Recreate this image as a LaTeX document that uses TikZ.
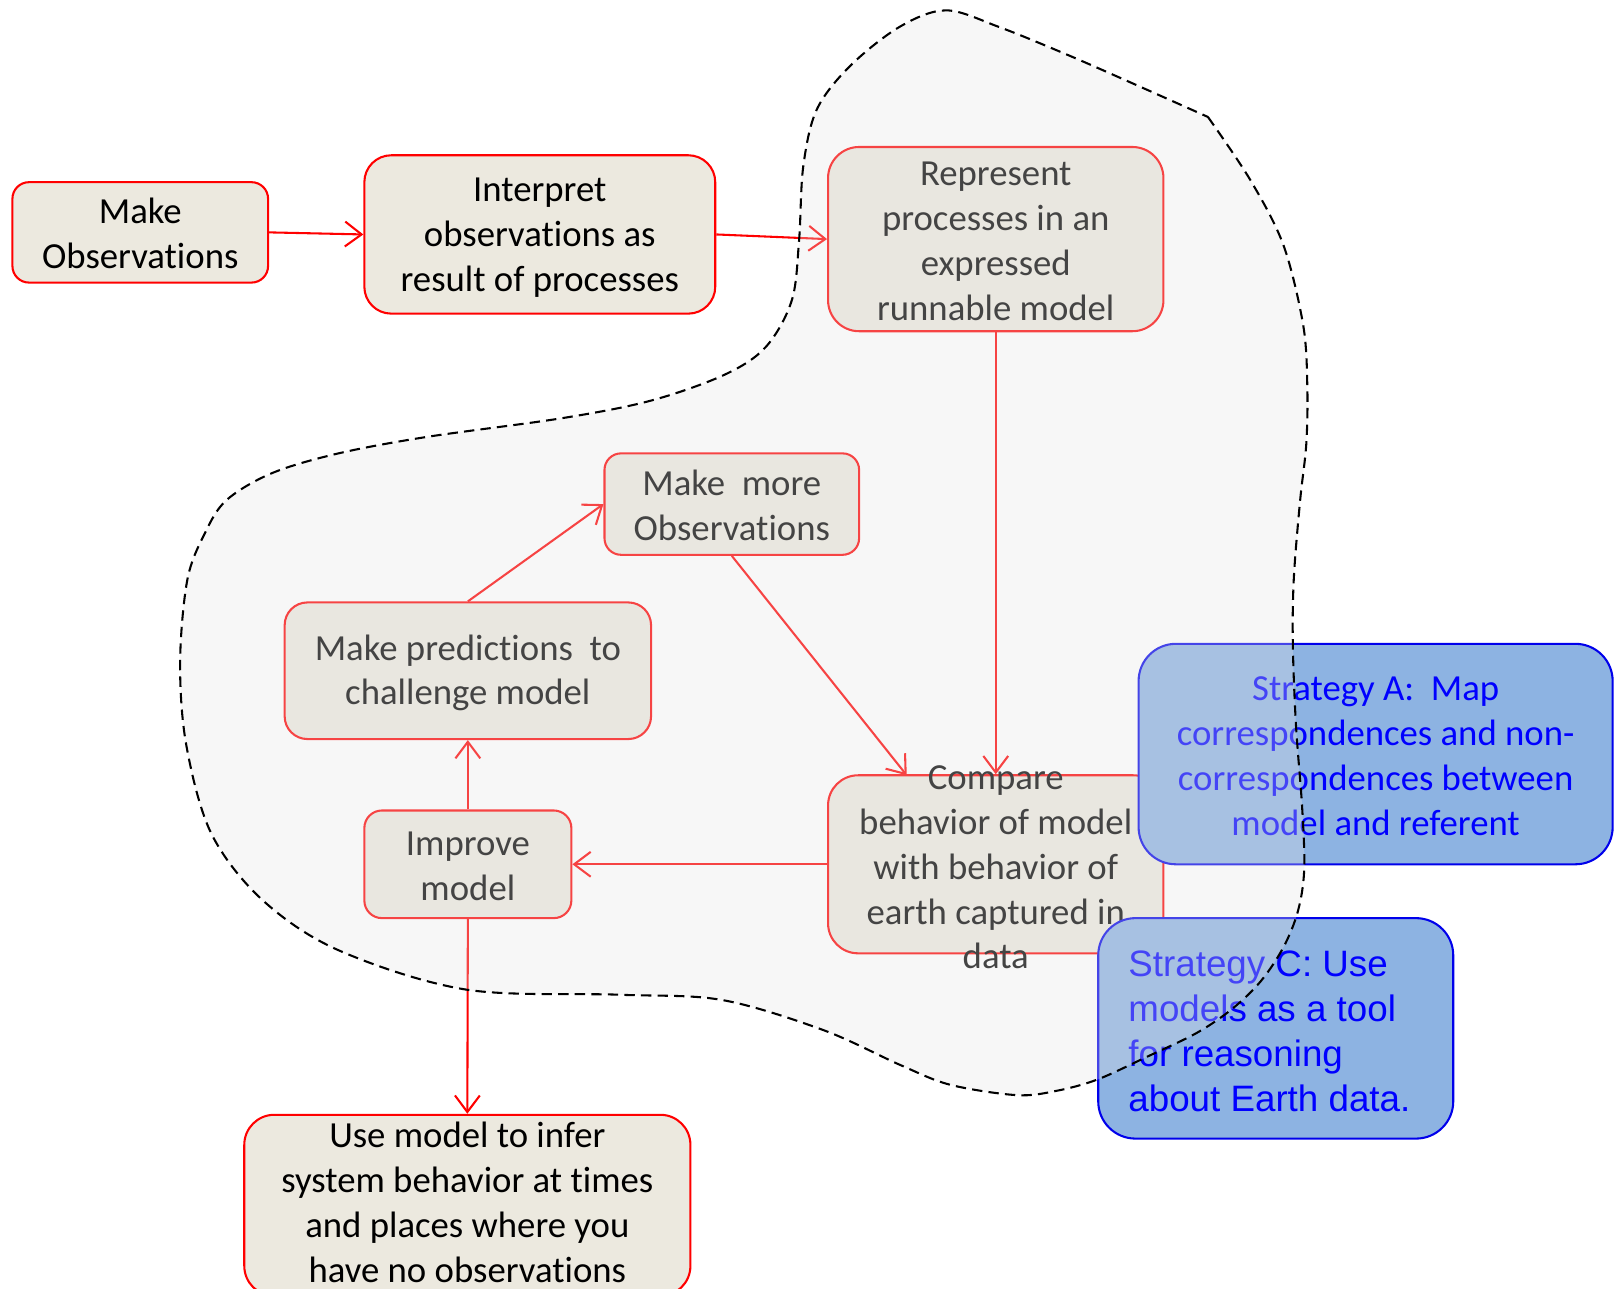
\documentclass[tikz,border=0pt]{standalone}
\usepackage{fontspec}
\setmainfont{Carlito}[Ligatures=NoCommon]
\newfontfamily\arialfont{Liberation Sans}
\usetikzlibrary{arrows.meta,calc}
\definecolor{boxfill}{RGB}{236,233,223}
\definecolor{boxred}{RGB}{255,0,0}
\definecolor{stratfill}{RGB}{141,179,226}
\definecolor{stratline}{RGB}{0,0,235}
\definecolor{strattext}{RGB}{0,0,255}
\definecolor{haze}{RGB}{228,228,228}
\begin{document}
\begin{tikzpicture}[x=1pt,y=-1pt,
  box/.style={draw=boxred, fill=boxfill, line width=2pt, inner sep=0pt},
  boxtext/.style={font=\fontsize{35.5}{43.3}\selectfont, align=center, inner sep=0pt, text=black},
  link/.style={draw=boxred, line width=2pt, -{Straight Barb[length=16pt,width=24pt]}},
  strat/.style={draw=stratline, fill=stratfill, line width=2pt, inner sep=0pt},
]
\useasboundingbox (0,0) rectangle (1568,1245);

% boxes outside the modelling region
\node[box, minimum width=247pt, minimum height=97pt, rounded corners=16pt] (obs) at (135.5,224.5) {};
\node[boxtext] (obst) at ($(obs.center)+(0,1)$) {Make\\Observations};
\node[box, minimum width=339pt, minimum height=153pt, rounded corners=26pt] (interp) at (521.5,226.5) {};
\node[boxtext] (interpt) at ($(interp.center)+(0,3)$) {Interpret\\observations as\\result of processes};
\node[box, minimum width=431pt, minimum height=175pt, rounded corners=29pt] (use) at (451.5,1164.5) {};
\node[boxtext] (uset) at ($(use.center)+(0,-3)$) {Use model to infer\\system behavior at times\\and places where you\\have no observations};

% boxes of the modelling cycle
\node[box, minimum width=324pt, minimum height=178pt, rounded corners=30pt] (rep) at (962,231) {};
\node[boxtext] (rept) at ($(rep.center)+(0,2)$) {Represent\\processes in an\\expressed\\runnable model};
\node[box, minimum width=246pt, minimum height=98pt, rounded corners=16pt] (more) at (707,487) {};
\node[boxtext] (moret) at ($(more.center)+(0,1)$) {Make\ \ more\\Observations};
\node[box, minimum width=354pt, minimum height=132pt, rounded corners=22pt] (pred) at (452,648) {};
\node[boxtext] (predt) at ($(pred.center)+(0,2)$) {Make predictions\ \ to\\challenge model};
\node[box, minimum width=200pt, minimum height=104pt, rounded corners=17pt] (imp) at (452,835) {};
\node[boxtext] (impt) at ($(imp.center)+(0,2)$) {Improve\\model};
\node[box, minimum width=324pt, minimum height=172pt, rounded corners=29pt] (cmp) at (962,835) {};
\node[boxtext] (cmpt) at ($(cmp.center)+(0,3)$) {Compare\\behavior of model\\with behavior of\\earth captured in\\data};
\coordinate (cmpin) at (876,749);

% connectors
\draw[link] (obs.east) -- (interp.west);
\draw[link] (interp.east) -- (rep.west);
\draw[link] (rep.south) -- (cmp.north);
\draw[link] (more.south) -- (cmpin);
\draw[link] (pred.north) -- (more.west);
\draw[link] (imp.north) -- (pred.south);
\draw[link] (cmp.west) -- (imp.east);
\draw[link] (imp.south) -- (use.north);

% strategy call-outs
\node[strat, minimum width=458pt, minimum height=213pt, rounded corners=36pt] (sa) at (1329,728.5) {};
\node[boxtext, text=strattext] (sat) at ($(sa.center)+(0,2)$) {Strategy A:\ \ Map\\correspondences and non-\\correspondences between\\model and referent};
\node[strat, minimum width=343pt, minimum height=213pt, rounded corners=36pt] (sc) at (1232.5,993.5) {};
\node[font=\arialfont\fontsize{35.5}{43.5}\selectfont, align=left, inner sep=0pt, text=strattext, anchor=west] (sct) at (1090,996) {Strategy C: Use\\models as a tool\\for reasoning\\about Earth data.};

% hazy modelling region with dashed outline
\path[fill=haze, fill opacity=0.3, draw=black, line width=2pt, dash pattern=on 10pt off 6pt]
  plot[smooth, tension=0.55] coordinates {
    (1167,113) (1208,174) (1240,237) (1259,314) (1263,373) (1262,429) (1256,484)
    (1250,558) (1249,621) (1252,700) (1258,780) (1260,840) (1254,880) (1240,915)
    (1218,948) (1190,975) (1156,998) (1108,1021) (1060,1043) (1020,1054) (982,1058)
    (918,1048) (870,1029) (795,995) (697,966) (598,961) (450,956) (327,918) (253,869)
    (204,805) (180,720) (174,640) (181,560) (198,515) (219,483) (263,457) (327,438)
    (413,422) (543,404) (629,387) (700,362) (740,335) (765,290) (772,232) (776,161)
    (789,106) (821,64) (869,26) (914,10) (965,26) (1029,52) (1093,80) (1167,113)}
  -- cycle;
\end{tikzpicture}
\end{document}
